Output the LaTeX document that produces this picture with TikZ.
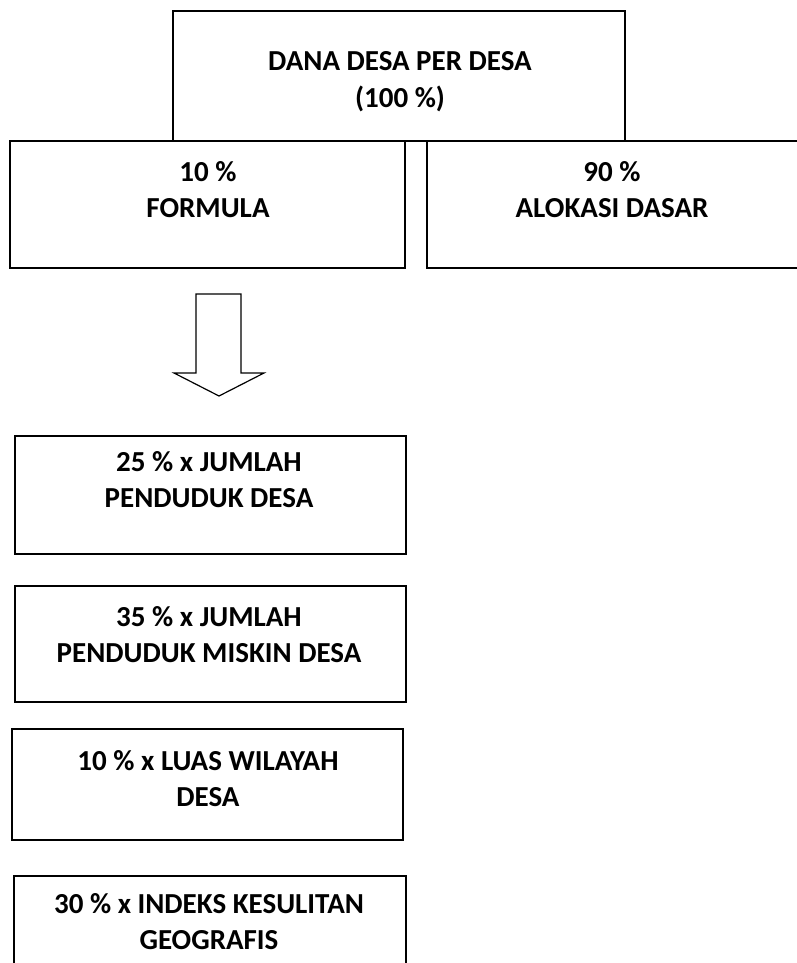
\documentclass[tikz,border=0pt]{standalone}
\usepackage{fontspec}
\setmainfont{Carlito}
\usetikzlibrary{positioning}

\begin{document}
\begin{tikzpicture}[x = 1pt, y = -1pt,
    box/.style={draw, line width=1.6pt, inner sep=0pt},
    lbl/.style={align=center, anchor=base, inner sep=0pt,
        font=\fontsize{29}{36}\selectfont\bfseries}]
    % Page
    \useasboundingbox (0,0) rectangle (797,963);
    \clip (0,0) rectangle (797,963);

    % Top row
    \node[box, minimum width=452pt, minimum height=130pt] (total) at (399,76) {};
    \node[box, minimum width=395pt, minimum height=127pt] (formula) at (207.5,204.5) {};
    \node[box, minimum width=372pt, minimum height=127pt] (alokasi) at (613,204.5) {};

    % (base anchor sits on the last line)
    \node[lbl] (total-t) at (400,107) {DANA DESA PER DESA\\(100 \%)};
    \node[lbl] (formula-t) at (208,217) {10 \%\\FORMULA};
    \node[lbl] (alokasi-t) at (612,217) {90 \%\\ALOKASI DASAR};

    % Block arrow
    \draw[line width=1.2pt, line join=miter]
        (196,294) -- (241,294) -- (241,373) -- (264,373) -- (219,396)
        -- (174,373) -- (196,373) -- cycle;

    % Formula parts
    \node[box, minimum width=391pt, minimum height=118pt] (penduduk) at (210.5,495) {};
    \node[box, minimum width=391pt, minimum height=116pt] (miskin) at (210.5,644) {};
    \node[box, minimum width=391pt, minimum height=111pt] (luas) at (207.5,784.5) {};
    \node[box, minimum width=392pt, minimum height=112pt] (geografis) at (210,932) {};

    \node[lbl] (penduduk-t) at (209,507) {25 \% x JUMLAH\\PENDUDUK DESA};
    \node[lbl] (miskin-t) at (209,662) {35 \% x JUMLAH\\PENDUDUK MISKIN DESA};
    \node[lbl] (luas-t) at (208,806) {10 \% x LUAS WILAYAH\\DESA};
    \node[lbl] (geografis-t) at (209,949) {30 \% x INDEKS KESULITAN\\GEOGRAFIS};
\end{tikzpicture}
\end{document}
